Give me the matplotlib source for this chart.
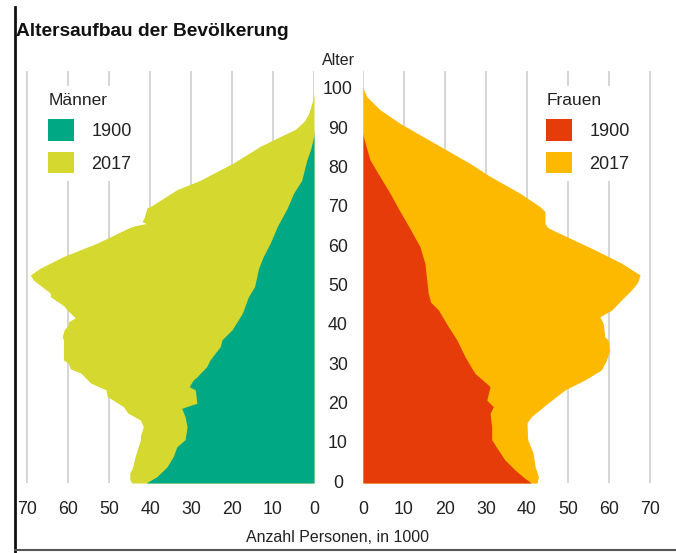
import matplotlib.pyplot as plt
from matplotlib.patches import Patch
from matplotlib.lines import Line2D
from matplotlib import transforms

# Männer 2017 (Anzahl in 1000 je Altersjahr)
ages_m2017 = [0, 1, 2.5, 4, 6.7, 8, 11, 12, 14.3, 16, 17.8, 19.4, 22, 23.7, 25.4, 28, 29,
              30.5, 31.3, 33.8, 36.4, 37.2, 39, 40.2, 41, 42, 44, 45, 47.4, 48.3, 50, 51.6,
              52.9, 54.7, 57.6, 61, 65, 65.5, 66, 66.5, 67.5, 70, 70.3, 74.6, 77, 81.4,
              85.6, 88, 90, 92, 94, 96.7, 99]
males_2017 = [44.5, 45, 45, 44.3, 43.7, 43.3, 42.4, 42.4, 41.7, 42.4, 45.5, 46.5, 50.5, 50.8,
              54.5, 57, 59.5, 60, 61.2, 61.2, 61.2, 61.5, 61, 60, 60, 58.3, 60.3, 61, 64.4,
              64.4, 66.5, 68.5, 69.3, 66.8, 61.2, 53, 45, 43.5, 41, 42, 41.5, 40.8, 40,
              33.5, 27.8, 19.7, 13.2, 8.5, 4.5, 2.4, 1.3, 0.5, 0]

# Männer 1900
ages_m1900 = [0, 1.6, 4.1, 6.7, 9.2, 11, 14.3, 16.9, 19, 20.3, 23.7, 24.5, 26.2, 27, 29.6,
              31.3, 34.7, 36.4, 39, 43.2, 47.4, 50, 54.7, 57.6, 61, 65.2, 70, 73.7, 77, 82,
              85, 88, 90]
males_1900 = [41, 38.4, 35.9, 34.4, 33.5, 31.5, 31, 31.5, 32.3, 28.6, 29, 30.5, 29.5, 28.6,
              26.2, 25.4, 22.9, 22.5, 20, 17.5, 16, 14.5, 13.5, 12.4, 10.7, 9, 6.5, 5, 3,
              1.8, 0.8, 0.1, 0]

# Frauen 2017
ages_f2017 = [0, 1.6, 4.1, 7.6, 11, 15.2, 16.9, 20.3, 23.7, 26.2, 28.8, 31.3, 33.8, 36.4,
              37.2, 40.6, 42.3, 44, 46.6, 49.1, 51, 52.9, 55.9, 59.3, 63.5, 65, 66, 69,
              70.3, 73.7, 78, 81.3, 84.7, 88.1, 91.5, 95, 98.3, 100.5]
females_2017 = [42.5, 42.8, 42, 41.5, 40.2, 39.9, 41.1, 45.1, 49.3, 54.1, 58.2, 59.4, 60.2,
                59.8, 59, 58.6, 57.8, 60.7, 63.1, 65.5, 67, 67.6, 63.1, 56.6, 48, 45, 44.4,
                44.4, 43.2, 38.3, 31, 26.1, 20.4, 14.7, 9, 4.1, 0.9, 0]

# Frauen 1900
ages_f1900 = [0, 1.2, 3.3, 5.9, 8.4, 11, 14.3, 17.7, 19.4, 21.1, 24.5, 25, 27.9, 32.1, 36.4,
              39.8, 44, 46, 48.3, 55.9, 60.1, 65.2, 69.5, 73.7, 78, 82.2, 88, 89]
females_1900 = [41.1, 39.5, 37.1, 34.6, 33, 31.4, 31.4, 31, 31.8, 30.2, 31, 30.5, 27.3, 24.9,
                22.9, 20.8, 18.4, 16.5, 15.9, 15.1, 13.9, 11.2, 8.8, 6.6, 4.1, 1.7, 0.1, 0]

xticks = [0, 10, 20, 30, 40, 50, 60, 70]
age_ticks = [0, 10, 20, 30, 40, 50, 60, 70, 80, 90, 100]

c_m1900 = '#00a884'
c_m2017 = '#d5d82e'
c_f1900 = '#e63c0a'
c_f2017 = '#fdb900'
txt = '#222222'

plt.rcParams['font.family'] = ['Liberation Sans', 'DejaVu Sans']

W, H = 676, 553
fig = plt.figure(figsize=(W / 100, H / 100), dpi=100)


def px_axes(x0, x1, y_top, y_bot):
    return fig.add_axes([x0 / W, 1 - y_bot / H, (x1 - x0) / W, (y_bot - y_top) / H])


ax_m = px_axes(23.3, 314, 71, 483)
ax_f = px_axes(363, 654, 71, 483)

ax_m.fill_betweenx(ages_m2017, 0, males_2017, color=c_m2017, lw=0)
ax_m.fill_betweenx(ages_m1900, 0, males_1900, color=c_m1900, lw=0)
ax_f.fill_betweenx(ages_f2017, 0, females_2017, color=c_f2017, lw=0)
ax_f.fill_betweenx(ages_f1900, 0, females_1900, color=c_f1900, lw=0)

ax_m.set_xlim(71, 0)
ax_f.set_xlim(0, 71)
for ax in (ax_m, ax_f):
    ax.set_ylim(0, 104.8)
    ax.set_xticks(xticks)
    ax.set_yticks([])
    ax.grid(axis='x', color='#d2d2d2', lw=1.3)
    ax.set_axisbelow(True)
    ax.tick_params(axis='x', length=0, pad=13, labelsize=12.8, labelcolor=txt)
    for s in ax.spines.values():
        s.set_visible(False)

# Alter-Spalte in der Mitte
trans = transforms.blended_transform_factory(fig.transFigure, ax_m.transData)
for a in age_ticks:
    ax_m.text(338 / W, a, str(a), transform=trans, ha='center', va='center',
              fontsize=12.8, color=txt, clip_on=False)
ax_m.text(338 / W, 107.5, 'Alter', transform=trans, ha='center', va='center',
          fontsize=11.5, color=txt, clip_on=False)


def add_legend(ax, title, colors, x_left):
    leg = ax.legend(handles=[Patch(facecolor=c, lw=0) for c in colors],
                    labels=['1900', '2017'], title=title, loc='upper left',
                    bbox_to_anchor=(x_left / W, 1 - 86 / H), bbox_transform=fig.transFigure,
                    frameon=True, facecolor='white', edgecolor='none', framealpha=1,
                    fancybox=False, borderaxespad=0, borderpad=0.4,
                    handlelength=1.45, handleheight=1.45, handletextpad=0.95,
                    labelspacing=0.62, fontsize=13, title_fontsize=12.5, alignment='left')
    for t in leg.get_texts():
        t.set_color(txt)
    leg.get_title().set_color(txt)


add_legend(ax_m, 'Männer', [c_m1900, c_m2017], 41)
add_legend(ax_f, 'Frauen', [c_f1900, c_f2017], 539)

fig.text(338 / W, 1 - 537 / H, 'Anzahl Personen, in 1000', ha='center', va='center',
         fontsize=11.5, color=txt)
fig.text(16 / W, 1 - 32 / H, 'Altersaufbau der Bevölkerung', ha='left', va='center',
         fontsize=13.8, fontweight='bold', color='#111111')

# Rahmenlinien links und unten
fig.add_artist(Line2D([15 / W, 15 / W], [0, 1 - 7 / H], transform=fig.transFigure,
                      color='#111111', lw=2))
fig.add_artist(Line2D([15 / W, 1], [1 - 550 / H, 1 - 550 / H], transform=fig.transFigure,
                      color='#555555', lw=1.5))

fig.savefig('out.png', dpi=100)
